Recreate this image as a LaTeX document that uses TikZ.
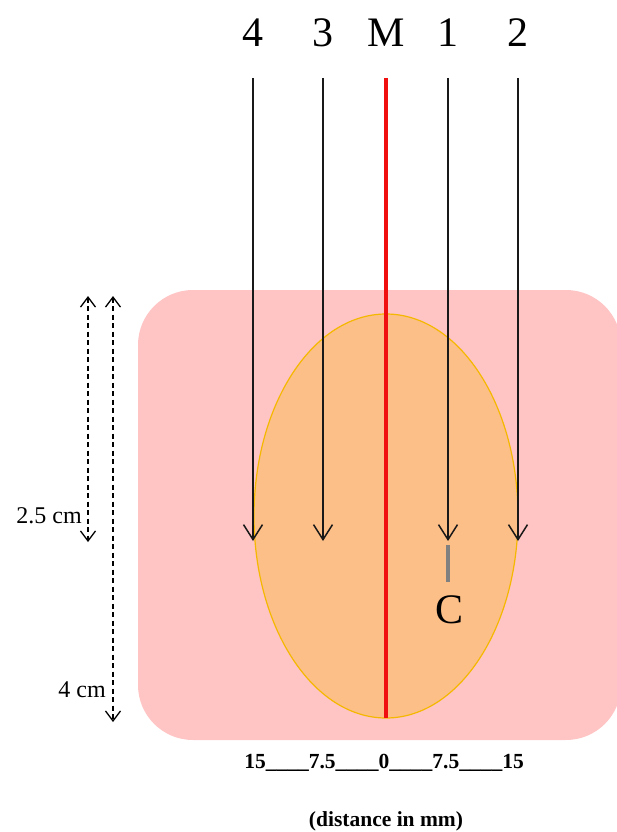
\documentclass[tikz,border=0pt]{standalone}
\usepackage{fontspec}
\setmainfont{Liberation Serif}
\usetikzlibrary{arrows.meta,shapes.geometric}
\definecolor{pinkbg}{HTML}{FFC4C4}
\definecolor{orfill}{HTML}{FDBF88}
\definecolor{orline}{HTML}{F5B800}
\definecolor{redline}{HTML}{F01010}
\begin{document}
\begin{tikzpicture}[x=1pt,y=-1pt,
  beam/.style={draw=black!90,line width=1.5pt,-{Straight Barb[length=15pt,width=19pt,line width=1.5pt]}},
  dim/.style={draw=black,line width=1.3pt,dashed,dash pattern=on 5pt off 3.5pt,{Straight Barb[length=10pt,width=15pt,line width=1.3pt]}-{Straight Barb[length=10pt,width=15pt,line width=1.3pt]}},
  toplab/.style={font=\fontsize{42}{42}\selectfont,inner sep=0pt},
  small/.style={font=\fontsize{24}{24}\selectfont,inner sep=0pt},
  bold/.style={font=\fontsize{21.5}{21.5}\selectfont\bfseries,inner sep=0pt}]
\useasboundingbox (0,0) rectangle (617,832);
\fill[pinkbg,rounded corners=55pt] (138,290) rectangle (621,740);
\node[draw=orline,fill=orfill,line width=1.2pt,ellipse,minimum width=264pt,minimum height=404pt,inner sep=0pt] (ell) at (386,516) {};
% labels
\node[toplab] (l4) at (253,33) {4};
\node[toplab] (l3) at (323,33) {3};
\node[toplab] (lM) at (386,33) {M};
\node[toplab] (l1) at (448,33) {1};
\node[toplab] (l2) at (518,33) {2};
% beam endpoints
\coordinate (s4) at (253,78); \coordinate (e4) at (253,541);
\coordinate (s3) at (323,78); \coordinate (e3) at (323,541);
\coordinate (s1) at (448,78); \coordinate (e1) at (448,541);
\coordinate (s2) at (518,78); \coordinate (e2) at (518,541);
\coordinate (sM) at (386,78); \coordinate (eM) at (386,718);
\draw[beam] (s4) -- (e4);
\draw[beam] (s3) -- (e3);
\draw[beam] (s1) -- (e1);
\draw[beam] (s2) -- (e2);
\draw[redline,line width=3.5pt] (sM) -- (eM);
% C marker
\coordinate (c1) at (448,545); \coordinate (c2) at (448,582);
\draw[gray,line width=4pt] (c1) -- (c2);
\node[toplab] (lC) at (450,610) {C};
% dimension arrows
\coordinate (d1a) at (88,296); \coordinate (d1b) at (88,542);
\coordinate (d2a) at (113,296); \coordinate (d2b) at (113,722);
\draw[dim] (d1a) -- (d1b);
\draw[dim] (d2a) -- (d2b);
\node[small,anchor=east] (t25) at (82,516) {2.5 cm};
\node[small,anchor=east] (t4) at (106,690) {4 cm};
% bottom scale
\node[bold] (scale) at (384,763) {15\_\_\_\_7.5\_\_\_\_0\_\_\_\_7.5\_\_\_\_15};
\node[bold] (dist) at (386,821) {(distance in mm)};
\end{tikzpicture}
\end{document}
